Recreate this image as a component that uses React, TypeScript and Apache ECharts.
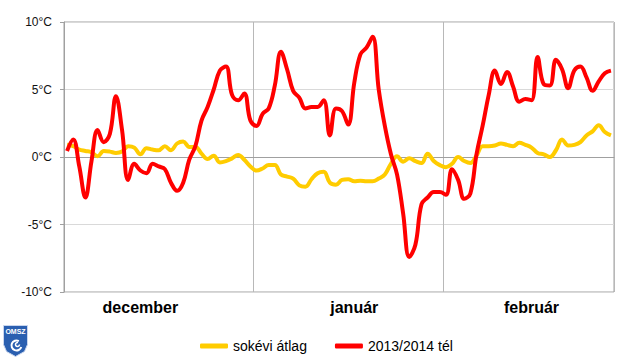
import React, { useEffect, useRef } from "react";
import * as echarts from "echarts";

const monthNames = ["december", "január", "február"];
const monthDays = [31, 31, 28];
const monthLabelIndex = [12, 47, 76];
const yTicks = { min: -10, max: 10, interval: 5 };

const sokeviAtlag = [
  0.9, 0.8, 0.55, 0.45, 0.35, 0.05, 0.45, 0.4, 0.3, 0.4, 0.8, 0.7, 0.2, 0.65, 0.55, 0.5, 0.8, 0.5, 1.0, 1.15, 0.75, 0.75,
  0.25, -0.15, 0.1, -0.4, -0.3, -0.1, 0.15, -0.2, -0.7, -1.0, -0.85, -0.6, -0.6, -1.3, -1.45, -1.6, -2.1, -2.2, -1.65, -1.2, -1.1, -1.9, -2.05,
  -1.7, -1.65, -1.8, -1.75, -1.8, -1.8, -1.6, -1.3, -0.5, 0.05, -0.35, -0.1, -0.3, -0.45, 0.25, -0.3, -0.6, -0.75, -0.5, 0.0, -0.3,
  -0.45, 0.1, 0.8, 0.8, 0.85, 1.0, 0.9, 0.8, 1.05, 0.9, 0.7, 0.3, 0.2, 0.0, 0.5, 1.3, 0.85, 0.9, 1.1, 1.6, 1.9, 2.35, 1.85, 1.6,
];

const tel2013 = [
  0.45, 1.3, -0.7, -3.0, -0.3, 2.0, 1.1, 1.7, 4.5, 2.0, -1.7, -0.5, -1.0, -1.2, -0.5, -0.7, -0.9, -1.9, -2.5, -1.9, -0.2, 0.8,
  2.7, 3.7, 5.0, 6.4, 6.7, 4.6, 4.2, 4.7, 2.7, 2.3, 3.2, 3.6, 5.3, 7.8, 6.5, 4.9, 4.4, 3.6, 3.7, 3.7, 4.2, 1.6,
  3.6, 3.4, 2.4, 5.5, 7.6, 8.1, 8.9, 5.0, 2.3, 0.2, -1.3, -4.2, -7.4, -6.5, -3.5, -3.0, -2.6, -2.6, -2.8, -0.9, -1.7, -3.1,
  -2.7, 0.2, 2.3, 4.6, 6.4, 5.4, 6.3, 5.2, 4.1, 4.3, 4.2, 7.4, 5.4, 5.3, 7.2, 6.5, 5.1, 6.4, 6.7, 5.9, 4.9, 5.6, 6.2, 6.4,
];

const seriesNames = ["sokévi átlag", "2013/2014 tél"];

const categories: string[] = [];
const monthStart: number[] = [];
monthDays.forEach((n, m) => {
  monthStart.push(categories.length);
  for (let d = 1; d <= n; d++) categories.push(monthNames[m] + " " + d);
});

export default function App() {
  const ref = useRef<HTMLDivElement>(null);
  useEffect(() => {
    const chart = echarts.init(ref.current!, null, { renderer: "svg" });
    const font = "Arial, 'Liberation Sans', sans-serif";
    chart.setOption({
      animation: false,
      textStyle: { fontFamily: font },
      grid: {
        left: 64,
        right: 26,
        top: 22,
        bottom: 68,
        show: true,
        borderColor: "#a0a0a0",
        borderWidth: 1,
      },
      legend: {
        left: 195,
        top: 334,
        itemWidth: 28,
        itemHeight: 5,
        itemGap: 28,
        icon: "roundRect",
        textStyle: { fontSize: 14, color: "#000", fontFamily: font },
        data: seriesNames,
      },
      xAxis: {
        type: "category",
        data: categories,
        boundaryGap: true,
        axisLine: { lineStyle: { color: "#a0a0a0" } },
        axisTick: { show: false },
        axisLabel: {
          interval: (idx: number) => monthLabelIndex.includes(idx),
          formatter: (_v: string, idx: number) => {
            const k = monthLabelIndex.indexOf(idx);
            return k >= 0 ? monthNames[k] : "";
          },
          fontSize: 16,
          fontWeight: "bold",
          color: "#000",
          margin: 7,
          fontFamily: font,
        },
        splitLine: {
          show: true,
          interval: (idx: number) => monthStart.includes(idx) && idx > 0,
          lineStyle: { color: "#b8b8b8", width: 1 },
        },
      },
      yAxis: {
        type: "value",
        min: yTicks.min,
        max: yTicks.max,
        interval: yTicks.interval,
        axisLine: { show: true, lineStyle: { color: "#a0a0a0" } },
        axisTick: { show: true, length: 4, lineStyle: { color: "#a0a0a0" } },
        axisLabel: {
          formatter: "{value}°C",
          fontSize: 12,
          color: "#111",
          margin: 12,
          fontFamily: font,
        },
        splitLine: { lineStyle: { color: "#d9d9d9", width: 1 } },
      },
      series: [
        {
          name: seriesNames[0],
          type: "line",
          data: sokeviAtlag,
          smooth: 0.4,
          symbol: "none",
          color: "#ffcc00",
          lineStyle: { width: 4, color: "#ffcc00" },
        },
        {
          name: seriesNames[1],
          type: "line",
          data: tel2013,
          smooth: 0.4,
          symbol: "none",
          color: "#ff0000",
          lineStyle: { width: 4, color: "#ff0000" },
        },
      ],
      graphic: [
        {
          type: "group",
          left: 3,
          top: 325,
          children: [
            {
              type: "polygon",
              shape: {
                points: [
                  [0, 0], [24, 0], [24, 19], [21, 26], [12, 31], [3, 26], [0, 19],
                ],
              },
              style: { fill: "#2a5fb0", stroke: "#c9d6ee", lineWidth: 1 },
            },
            {
              type: "text",
              x: 12,
              y: 2,
              style: {
                text: "OMSZ",
                fill: "#fff",
                font: "bold 7px Arial, sans-serif",
                align: "center",
              },
            },
            {
              type: "arc",
              shape: { cx: 13, cy: 20, r: 5, startAngle: 0.3, endAngle: 5.2 },
              style: { stroke: "#fff", lineWidth: 2, fill: "none" },
            },
            {
              type: "arc",
              shape: { cx: 14, cy: 19, r: 2, startAngle: 0, endAngle: 5 },
              style: { stroke: "#fff", lineWidth: 1.5, fill: "none" },
            },
          ],
        },
      ],
    });
    return () => chart.dispose();
  }, []);
  return <div ref={ref} style={{ width: 640, height: 360, position: "absolute", left: 0, top: 0 }} />;
}
